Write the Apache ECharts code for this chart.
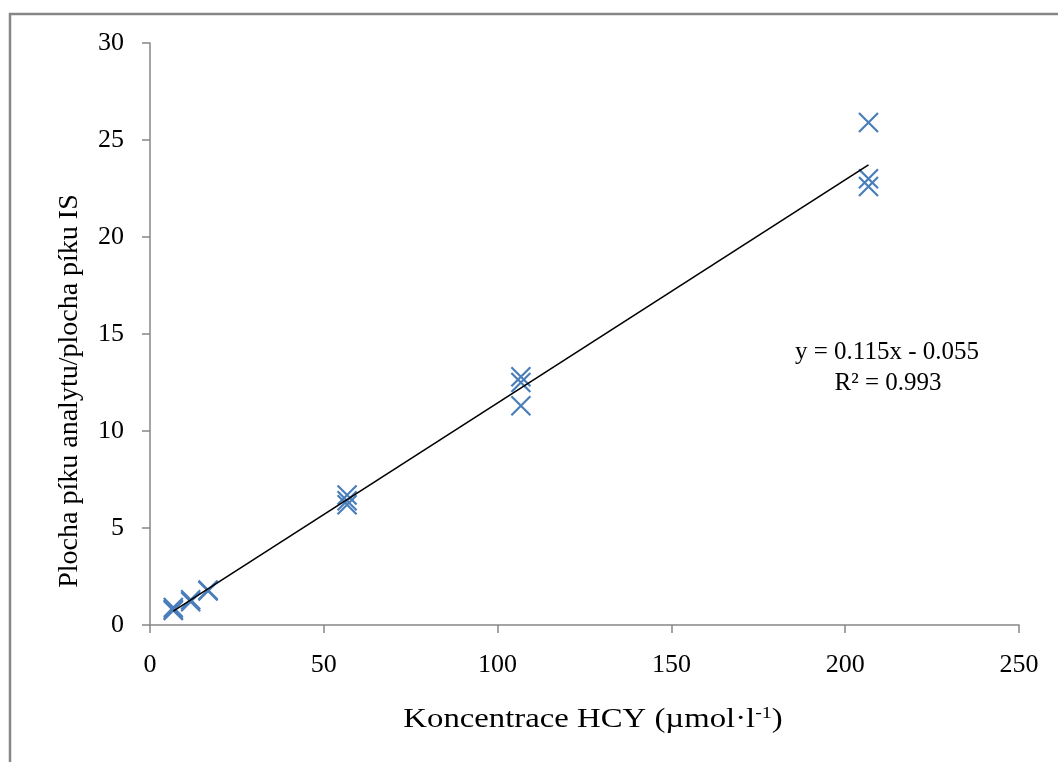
<!DOCTYPE html>
<html>
<head>
<meta charset="utf-8">
<script src="https://cdn.jsdelivr.net/npm/echarts@6/dist/echarts.min.js"></script>
<style>
  html, body { margin: 0; padding: 0; background: #ffffff; }
  #chart { width: 1058px; height: 762px; }
</style>
</head>
<body>
<div id="chart"></div>
<script>
// Calibration measurements: concentration (µmol·l⁻¹) and peak-area ratio analyte / IS
const concentrations = [6.7, 6.7, 6.7, 11.7, 11.7, 16.7, 16.7,
                        56.7, 56.7, 56.7, 106.7, 106.7, 106.7, 206.7, 206.7, 206.7];
const areaRatios     = [0.80, 0.90, 0.75, 1.20, 1.30, 1.80, 1.75,
                        6.70, 6.40, 6.20, 12.80, 12.50, 11.30, 25.90, 23.00, 22.60];

// Linear fit reported on the chart
const fitSlope = 0.115;
const fitIntercept = -0.055;
const fitR2 = 0.993;
const fitRange = [6.7, 206.7];

// Axis ticks
const xTicks = [0, 50, 100, 150, 200, 250];
const yTicks = [0, 5, 10, 15, 20, 25, 30];

const points = concentrations.map((c, i) => [c, areaRatios[i]]);
const fitLine = fitRange.map(x => [x, fitSlope * x + fitIntercept]);

const serif = '"Liberation Serif", "Times New Roman", serif';
const axisGray = '#868686';
const markBlue = '#4A7EBB';

const chart = echarts.init(document.getElementById('chart'), null, { renderer: 'canvas' });

const fmt = v => v.toFixed(3);
const equationText = 'y = ' + fmt(fitSlope) + 'x ' + (fitIntercept < 0 ? '- ' : '+ ') + fmt(Math.abs(fitIntercept));

chart.setOption({
  animation: false,
  backgroundColor: '#ffffff',
  grid: { left: 150, right: 39, top: 43, bottom: 137, containLabel: false },
  xAxis: {
    type: 'value',
    min: xTicks[0],
    max: xTicks[xTicks.length - 1],
    interval: xTicks[1] - xTicks[0],
    axisLine: { show: true, onZero: false, lineStyle: { color: axisGray, width: 1.5 } },
    axisTick: { show: true, inside: false, length: 8, lineStyle: { color: axisGray, width: 1.5 } },
    axisLabel: { color: '#000', fontFamily: serif, fontSize: 26, margin: 27 },
    splitLine: { show: false }
  },
  yAxis: {
    type: 'value',
    min: yTicks[0],
    max: yTicks[yTicks.length - 1],
    interval: yTicks[1] - yTicks[0],
    axisLine: { show: true, onZero: false, lineStyle: { color: axisGray, width: 1.5 } },
    axisTick: { show: true, inside: false, length: 8, lineStyle: { color: axisGray, width: 1.5 } },
    axisLabel: { color: '#000', fontFamily: serif, fontSize: 26, margin: 26 },
    splitLine: { show: false }
  },
  series: [
    {
      name: 'fit',
      type: 'line',
      data: fitLine,
      showSymbol: false,
      symbol: 'none',
      lineStyle: { color: '#000000', width: 1.6 },
      z: 3,
      silent: true
    },
    {
      name: 'measured',
      type: 'scatter',
      data: points,
      symbol: 'path://M0,0L10,10M10,0L0,10',
      symbolSize: 19,
      itemStyle: { color: 'rgba(0,0,0,0)', borderColor: markBlue, borderWidth: 2.2, opacity: 1 },
      z: 2
    }
  ],
  graphic: [
    {
      type: 'rect',
      shape: { x: 10, y: 14, width: 1200, height: 900 },
      style: { fill: 'none', stroke: axisGray, lineWidth: 2.5 },
      silent: true,
      z: 0
    },
    {
      type: 'text',
      x: 887, y: 352,
      style: { text: equationText, font: '25px ' + serif, fill: '#000', align: 'center', verticalAlign: 'middle' },
      z: 10
    },
    {
      type: 'text',
      x: 888, y: 383,
      style: { text: 'R² = ' + fmt(fitR2), font: '25px ' + serif, fill: '#000', align: 'center', verticalAlign: 'middle' },
      z: 10
    },
    {
      type: 'text',
      x: 70, y: 391,
      rotation: Math.PI / 2,
      style: { text: 'Plocha píku analytu/plocha píku IS', font: '28px ' + serif, fill: '#000', align: 'center', verticalAlign: 'middle' },
      z: 10
    },
    {
      type: 'text',
      x: 593, y: 720,
      scaleX: 1.17,
      style: {
        text: '{m|Koncentrace HCY (µmol·l}{s|-1}{m|)}',
        align: 'center',
        verticalAlign: 'middle',
        rich: {
          m: { font: '28px ' + serif, fill: '#000', color: '#000' },
          s: { font: '17px ' + serif, fill: '#000', color: '#000', verticalAlign: 'top', padding: [0, 0, 13, 0] }
        }
      },
      z: 10
    }
  ]
});
</script>
</body>
</html>
